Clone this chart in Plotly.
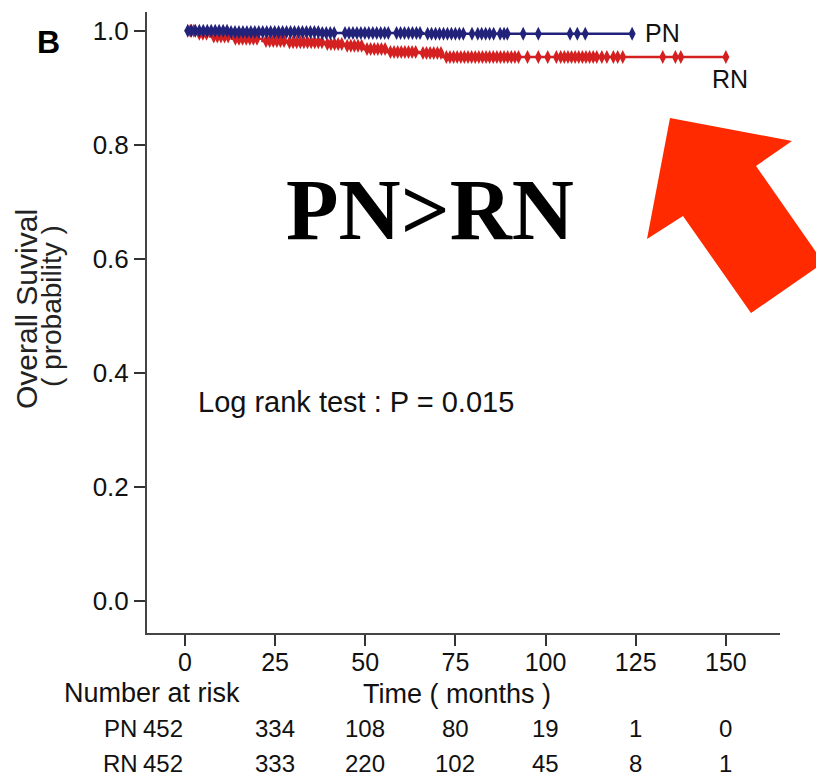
import plotly.graph_objects as go

# Kaplan-Meier step curves (time in months, survival probability)
pn_time = [0, 12, 38, 66, 124]
pn_surv = [1.0, 0.998, 0.996, 0.995, 0.995]

rn_time = [0, 3, 7, 13, 21.5, 28, 38.5, 44, 49.5, 56, 65, 71.5, 150]
rn_surv = [1.0, 0.995, 0.990, 0.986, 0.982, 0.980, 0.977, 0.974, 0.968, 0.963, 0.961, 0.954, 0.954]

# Censoring times
pn_censor = [0.8, 1.8, 2.9, 4, 5.1, 6.2, 7.3, 8.4, 9.5, 10.6, 11.7, 12.8, 13.9, 15, 16.1,
             17.2, 18.3, 19.4, 20.5, 21.6, 22.7, 23.8, 24.9, 26, 27.1, 28.2, 29.3, 30.4,
             31.5, 32.6, 33.7, 34.8, 35.9, 37, 38.1, 39.2, 40.3, 41.4, 44.4, 45.5, 46.6,
             47.7, 48.8, 49.9, 51, 52.1, 53.2, 54.3, 55.4, 56.4, 58.7, 59.8, 60.9, 62,
             63.1, 64.2, 65.2, 67.3, 68.4, 69.5, 70.6, 71.7, 72.8, 73.9, 75, 76.1, 77.2,
             79.6, 81.2, 82.3, 83.4, 84.5, 85.6, 87.4, 88.5, 89.4, 93.8, 98, 106.8, 108.8,
             111, 124]
rn_censor = [1.5, 2.5, 4, 5, 6, 8, 9, 10, 11, 12, 14, 15, 16, 17, 18, 19, 20, 22.5, 23.5,
             24.5, 25.5, 26.5, 27.5, 29, 30, 31, 32, 33, 34, 35, 36, 37, 38, 39.5, 40.5,
             41.5, 42.5, 43.5, 45, 46, 47, 48, 49, 50.5, 51.5, 52.5, 53.5, 54.5, 55.5,
             57, 58, 59, 60, 61, 62, 63, 64, 66, 67, 68, 69, 70, 71, 72.5, 73.5, 74.5,
             75.5, 76.5, 77.5, 78.5, 79.5, 80.5, 81.5, 82.5, 83.5, 84.5, 85.5, 86.5, 87.5,
             88.5, 89.5, 90.5, 91.5, 92.5, 95, 98, 100.6, 103, 104.2, 105.2, 106.2, 107.2,
             108.2, 109.2, 110.2, 111.2, 112.2, 113.2, 114.2, 115.6, 117, 118.8, 120,
             121.4, 132.5, 136, 137.5, 150]

# Number at risk table
risk_times = [0, 25, 50, 75, 100, 125, 150]
pn_risk = [452, 334, 108, 80, 19, 1, 0]
rn_risk = [452, 333, 220, 102, 45, 8, 1]

x_ticks = [0, 25, 50, 75, 100, 125, 150]
y_ticks = [0.0, 0.2, 0.4, 0.6, 0.8, 1.0]

NAVY = "#22227a"
RED = "#d42020"
SANS = "Liberation Sans, Arial"
INK = "#111"


def surv_at(times, survs, t):
    s = survs[0]
    for tt, ss in zip(times, survs):
        if tt <= t:
            s = ss
    return s


fig = go.Figure()

for times, survs, cens, color in [(rn_time, rn_surv, rn_censor, RED),
                                   (pn_time, pn_surv, pn_censor, NAVY)]:
    fig.add_trace(go.Scatter(x=times, y=survs, mode="lines",
                             line=dict(color=color, width=2.5, shape="hv"),
                             showlegend=False, hoverinfo="skip"))
    fig.add_trace(go.Scatter(x=cens, y=[surv_at(times, survs, c) for c in cens],
                             mode="markers",
                             marker=dict(symbol="diamond-tall", size=10, color=color,
                                         line=dict(width=0)),
                             showlegend=False, hoverinfo="skip"))

L, R, T, B = 147, 36, 12, 145
W, H = 816, 778
pw, ph = W - L - R, H - T - B


def px(x):
    return (x - L) / pw


def py(y):
    return (H - B - y) / ph


def label(x, y, text, size, family=SANS, color=INK, **kw):
    d = dict(x=px(x), y=py(y), xref="paper", yref="paper", text=text, showarrow=False,
             xanchor="center", yanchor="middle", font=dict(family=family, size=size, color=color))
    d.update(kw)
    return d


ann = []
# curve labels
ann.append(dict(x=pn_time[-1], y=pn_surv[-1], xref="x", yref="y", text="PN",
                showarrow=False, xanchor="left", yanchor="middle", xshift=11, yshift=1,
                font=dict(family=SANS, size=25, color=INK)))
ann.append(dict(x=rn_time[-1], y=rn_surv[-1], xref="x", yref="y", text="RN",
                showarrow=False, xanchor="center", yanchor="middle", xshift=4, yshift=-22,
                font=dict(family=SANS, size=25, color=INK)))
# panel letter
ann.append(label(48, 42, "<b>B</b>", 32, color="#000"))
# big comparison label
ann.append(label(430, 210, "<b>PN&gt;RN</b>", 86,
                 family="Liberation Serif, Times New Roman", color="#000"))
# log rank test
ann.append(label(196, 402, "Log rank test : P = 0.015", 29, xanchor="left"))
# y title, two rotated lines
ann.append(label(26, 309, "Overall Suvival", 30, color="#222", textangle=-90))
ann.append(label(51, 306, "( probability )", 28, color="#222", textangle=-90))
# x title and risk table header
ann.append(label(457, 694, "Time ( months )", 27))
ann.append(label(152, 693, "Number at risk", 27))
for name, vals, ypix in [("PN", pn_risk, 728), ("RN", rn_risk, 763)]:
    ann.append(label(120, ypix, name, 24))
    for i, (t, v) in enumerate(zip(risk_times, vals)):
        ann.append(dict(x=t, y=py(ypix), xref="x", yref="paper", text=str(v),
                        showarrow=False, xanchor="center", yanchor="middle",
                        xshift=-22 if i == 0 else 0,
                        font=dict(family=SANS, size=24, color=INK)))

# red arrow (pixel polygon converted to paper coords)
arrow_pts = [(670, 118), (792, 141), (756, 166), (816, 252), (816, 268),
             (751, 313), (683, 216), (647, 239)]
path = "M " + " L ".join(f"{px(x):.5f},{py(y):.5f}" for x, y in arrow_pts) + " Z"

fig.update_layout(
    width=W, height=H,
    margin=dict(l=L, r=R, t=T, b=B),
    paper_bgcolor="white", plot_bgcolor="white",
    annotations=ann,
    shapes=[dict(type="path", xref="paper", yref="paper", path=path,
                 fillcolor="#ff2a00", line=dict(width=0), layer="above")],
    xaxis=dict(range=[-10.5, 165], tickvals=x_ticks, ticks="outside", ticklen=11,
               tickwidth=2, tickcolor="#333", showline=True, linecolor="#444",
               linewidth=2, showgrid=False, zeroline=False, ticklabelstandoff=-5,
               tickfont=dict(family=SANS, size=25, color=INK)),
    yaxis=dict(range=[-0.056, 1.033], tickvals=y_ticks, ticktext=[f"{v:.1f}" for v in y_ticks],
               ticks="outside", ticklen=11, tickwidth=2, tickcolor="#333", showline=True,
               linecolor="#444", linewidth=2, showgrid=False, zeroline=False,
               tickfont=dict(family=SANS, size=26, color=INK)),
)

fig.write_html("out.html")
